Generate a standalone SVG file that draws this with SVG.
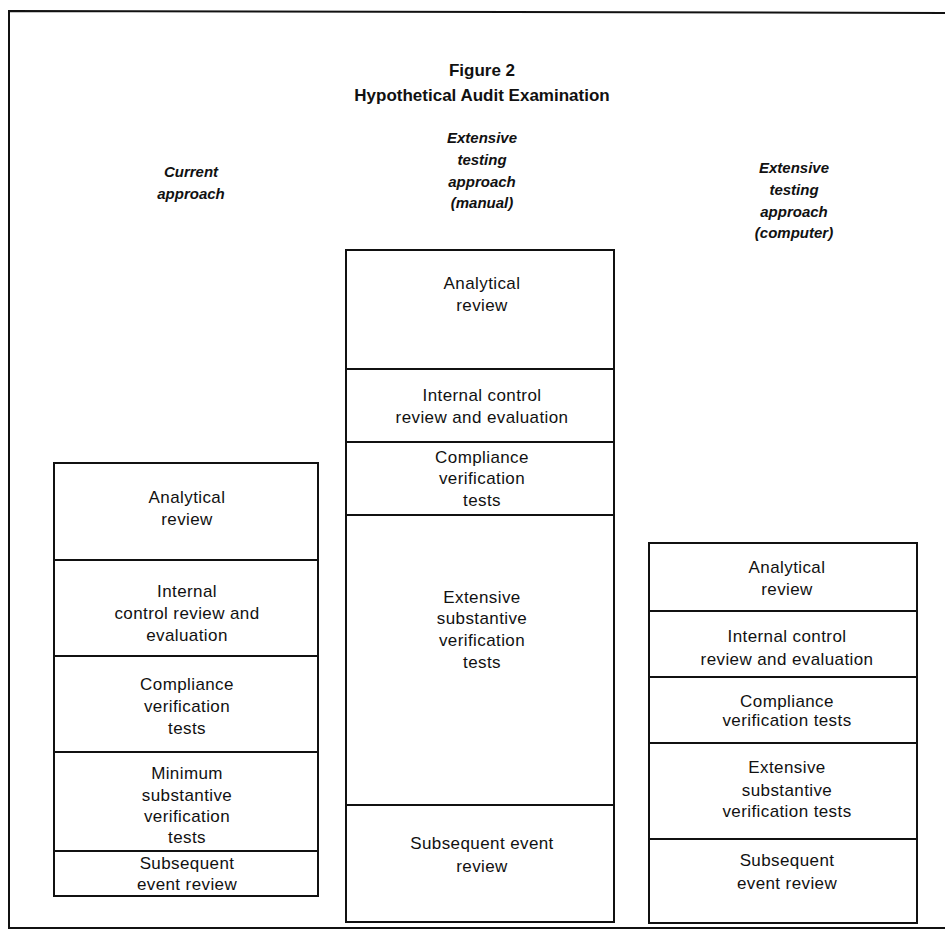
<svg xmlns="http://www.w3.org/2000/svg" width="945" height="933" viewBox="0 0 945 933">
<style>
.frame{fill:none;stroke:#111;stroke-width:2}
.box{fill:none;stroke:#111;stroke-width:2}
.div{stroke:#111;stroke-width:2}
text{font-family:"Liberation Sans",Arial,sans-serif;fill:#111;text-anchor:middle}
.t{font-size:17px;letter-spacing:0.4px}
.h{font-size:17px;font-weight:bold}
.c{font-size:15px;font-weight:bold;font-style:italic}
</style>
<rect width="945" height="933" fill="#fff"/>
<g id="frame">
<path class="frame" d="M946 13 L9 11 L9 928 L946 928"/>
</g>
<g id="title">
<text class="h" x="482" y="76">Figure 2</text>
<text class="h" x="482" y="101">Hypothetical Audit Examination</text>
</g>
<g id="col-current-head">
<text class="c" x="191" y="177">Current</text>
<text class="c" x="191" y="199">approach</text>
</g>
<g id="col-manual-head">
<text class="c" x="482" y="143">Extensive</text>
<text class="c" x="482" y="165">testing</text>
<text class="c" x="482" y="187">approach</text>
<text class="c" x="482" y="208">(manual)</text>
</g>
<g id="col-computer-head">
<text class="c" x="794" y="173">Extensive</text>
<text class="c" x="794" y="195">testing</text>
<text class="c" x="794" y="217">approach</text>
<text class="c" x="794" y="238">(computer)</text>
</g>
<g id="connectors"></g>
<g id="col-current">
<rect class="box" x="54" y="463" width="264" height="433"/>
<line class="div" x1="54" y1="560" x2="318" y2="560"/>
<line class="div" x1="54" y1="656" x2="318" y2="656"/>
<line class="div" x1="54" y1="752" x2="318" y2="752"/>
<line class="div" x1="54" y1="851" x2="318" y2="851"/>
<g id="cur-analytical"><text class="t" x="187" y="503">Analytical</text><text class="t" x="187" y="525">review</text></g>
<g id="cur-internal"><text class="t" x="187" y="597">Internal</text><text class="t" x="187" y="619">control review and</text><text class="t" x="187" y="641">evaluation</text></g>
<g id="cur-compliance"><text class="t" x="187" y="690">Compliance</text><text class="t" x="187" y="712">verification</text><text class="t" x="187" y="734">tests</text></g>
<g id="cur-minimum"><text class="t" x="187" y="779">Minimum</text><text class="t" x="187" y="801">substantive</text><text class="t" x="187" y="822">verification</text><text class="t" x="187" y="843">tests</text></g>
<g id="cur-subsequent"><text class="t" x="187" y="869">Subsequent</text><text class="t" x="187" y="890">event review</text></g>
</g>
<g id="col-manual">
<rect class="box" x="346" y="250" width="268" height="672"/>
<line class="div" x1="346" y1="369" x2="614" y2="369"/>
<line class="div" x1="346" y1="442" x2="614" y2="442"/>
<line class="div" x1="346" y1="515" x2="614" y2="515"/>
<line class="div" x1="346" y1="805" x2="614" y2="805"/>
<g id="man-analytical"><text class="t" x="482" y="289">Analytical</text><text class="t" x="482" y="311">review</text></g>
<g id="man-internal"><text class="t" x="482" y="401">Internal control</text><text class="t" x="482" y="423">review and evaluation</text></g>
<g id="man-compliance"><text class="t" x="482" y="463">Compliance</text><text class="t" x="482" y="484">verification</text><text class="t" x="482" y="506">tests</text></g>
<g id="man-extensive"><text class="t" x="482" y="603">Extensive</text><text class="t" x="482" y="624">substantive</text><text class="t" x="482" y="646">verification</text><text class="t" x="482" y="668">tests</text></g>
<g id="man-subsequent"><text class="t" x="482" y="849">Subsequent event</text><text class="t" x="482" y="872">review</text></g>
</g>
<g id="col-computer">
<rect class="box" x="649" y="543" width="268" height="380"/>
<line class="div" x1="649" y1="611" x2="917" y2="611"/>
<line class="div" x1="649" y1="677" x2="917" y2="677"/>
<line class="div" x1="649" y1="743" x2="917" y2="743"/>
<line class="div" x1="649" y1="839" x2="917" y2="839"/>
<g id="com-analytical"><text class="t" x="787" y="573">Analytical</text><text class="t" x="787" y="595">review</text></g>
<g id="com-internal"><text class="t" x="787" y="642">Internal control</text><text class="t" x="787" y="665">review and evaluation</text></g>
<g id="com-compliance"><text class="t" x="787" y="707">Compliance</text><text class="t" x="787" y="726">verification tests</text></g>
<g id="com-extensive"><text class="t" x="787" y="773">Extensive</text><text class="t" x="787" y="796">substantive</text><text class="t" x="787" y="817">verification tests</text></g>
<g id="com-subsequent"><text class="t" x="787" y="866">Subsequent</text><text class="t" x="787" y="889">event review</text></g>
</g>
</svg>
